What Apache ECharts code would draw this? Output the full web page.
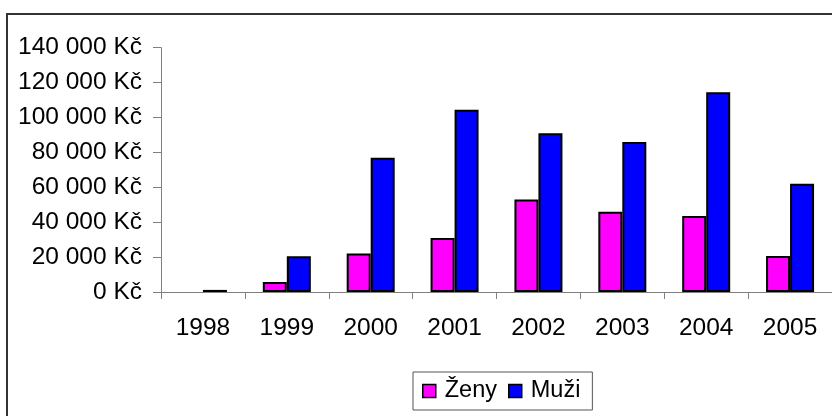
<!DOCTYPE html>
<html>
<head>
<meta charset="utf-8">
<script src="https://cdn.jsdelivr.net/npm/echarts@6/dist/echarts.min.js"></script>
<style>html,body{margin:0;padding:0;background:#fff}#c{width:832px;height:416px}</style>
</head>
<body>
<div id="c"></div>
<script>
const categories = ['1998','1999','2000','2001','2002','2003','2004','2005'];
const zeny = [null, 5700, 22000, 31000, 53000, 46000, 43600, 20700];
const muzi = [1200, 20500, 77000, 104500, 91000, 86000, 114500, 62000];
const seriesNames = ['Ženy', 'Muži'];
const yTicks = {min: 0, max: 140000, interval: 20000};

const FONT = '"Liberation Sans", Arial, sans-serif';
const chart = echarts.init(document.getElementById('c'), null, {renderer: 'canvas'});
function fmt(v) {
  return String(v).replace(/\B(?=(\d{3})+(?!\d))/g, ' ') + ' Kč';
}
chart.setOption({
  animation: false,
  backgroundColor: '#fff',
  textStyle: {fontFamily: FONT},
  graphic: [{
    type: 'rect', silent: true, z: 0,
    shape: {x: 7, y: 14, width: 900, height: 500},
    style: {fill: 'none', stroke: '#333', lineWidth: 2}
  }],
  grid: {left: 161, top: 47.7, width: 677, height: 244.3, containLabel: false},
  legend: {
    data: seriesNames,
    left: 413, top: 372,
    orient: 'horizontal',
    itemWidth: 13, itemHeight: 13, itemGap: 11,
    padding: [7, 12, 7, 9],
    borderColor: '#555', borderWidth: 1,
    icon: 'rect',
    itemStyle: {borderColor: '#000', borderWidth: 1.5},
    textStyle: {fontFamily: FONT, fontSize: 23.5, color: '#000', padding: [0, 0, 0, 4]}
  },
  xAxis: {
    type: 'category', data: categories,
    axisLine: {show: true, lineStyle: {color: '#808080', width: 1}},
    axisTick: {show: true, length: 7, lineStyle: {color: '#808080'}},
    axisLabel: {fontFamily: FONT, fontSize: 24.5, color: '#000', margin: 24}
  },
  yAxis: {
    type: 'value', min: yTicks.min, max: yTicks.max, interval: yTicks.interval,
    axisLine: {show: true, lineStyle: {color: '#808080', width: 1}},
    axisTick: {show: true, length: 8, lineStyle: {color: '#808080'}},
    splitLine: {show: false},
    axisLabel: {fontFamily: FONT, fontSize: 24.5, color: '#000', margin: 19, formatter: fmt}
  },
  series: [
    {name: seriesNames[0], type: 'bar', data: zeny, barWidth: 24, barGap: '0%',
     itemStyle: {color: '#FF00FF', borderColor: '#000', borderWidth: 2}},
    {name: seriesNames[1], type: 'bar', data: muzi, barWidth: 24, barGap: '0%',
     itemStyle: {color: '#0000FF', borderColor: '#000', borderWidth: 2}}
  ]
});
</script>
</body>
</html>
